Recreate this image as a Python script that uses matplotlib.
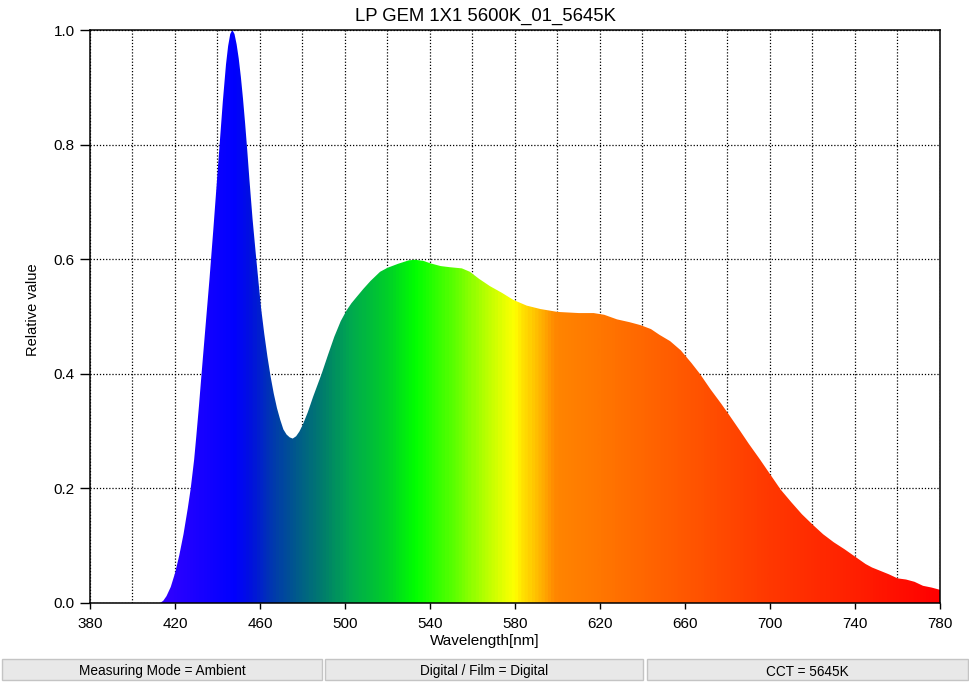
import numpy as np
import matplotlib.pyplot as plt
from matplotlib.colors import LinearSegmentedColormap
from matplotlib.patches import Rectangle

plt.rcParams['font.family'] = ['Liberation Sans', 'DejaVu Sans']

# spectrum (nm, relative value)
wavelength = [413, 414.5, 416, 418, 420, 422, 424, 426, 427.4, 429, 430, 431.3, 432.5, 434.3,
              436.2, 438, 439.5, 441, 442.5, 444, 445, 446, 447, 448, 449, 450, 451, 452, 453,
              454, 455, 456.5, 458, 459.2, 460.5, 462, 463.5, 465, 466.5, 468, 469.5, 471,
              472.5, 474, 475.4, 477, 478.5, 480, 482.5, 485, 487, 489, 492, 495, 498, 500.8,
              503, 505, 508.6, 512, 516.5, 520, 525, 530, 533, 537, 540, 545, 549.4, 555,
              558.8, 563, 568.2, 574, 579.2, 585.5, 592, 600, 610, 617, 622, 628, 634, 639,
              644, 648, 653, 658, 663, 667, 672, 677, 681, 686, 690, 695, 700, 705, 710, 715,
              720, 725, 730, 735, 740, 745, 748, 752, 756, 760, 764, 768, 772, 776, 780]
relative = [0.0, 0.004, 0.012, 0.028, 0.052, 0.083, 0.12, 0.165, 0.2, 0.25, 0.29, 0.345, 0.40, 0.48,
            0.564, 0.65, 0.725, 0.80, 0.875, 0.94, 0.972, 0.993, 1.0, 0.993, 0.975, 0.95, 0.918, 0.88, 0.837,
            0.79, 0.74, 0.67, 0.61, 0.564, 0.515, 0.47, 0.43, 0.395, 0.365, 0.34, 0.32, 0.303,
            0.294, 0.289, 0.287, 0.291, 0.299, 0.31, 0.333, 0.36, 0.38, 0.40, 0.433, 0.465, 0.492, 0.511,
            0.523, 0.532, 0.548, 0.562, 0.578, 0.585, 0.592, 0.598, 0.599, 0.597, 0.593, 0.588, 0.586, 0.584,
            0.578, 0.566, 0.553, 0.541, 0.529, 0.519, 0.513, 0.508, 0.506, 0.506, 0.503, 0.495, 0.49, 0.485,
            0.478, 0.468, 0.457, 0.441, 0.419, 0.40, 0.373, 0.348, 0.327, 0.30, 0.278, 0.252, 0.225, 0.198,
            0.176, 0.155, 0.137, 0.12, 0.106, 0.094, 0.081, 0.068, 0.062, 0.056, 0.05, 0.043, 0.041, 0.037,
            0.030, 0.027, 0.023]

title = 'LP GEM 1X1 5600K_01_5645K'
status = ['Measuring Mode = Ambient', 'Digital / Film = Digital', 'CCT = 5645K']

# wavelength -> colour stops for the fill
stops = [(380, '#4000FF'), (413, '#3300FF'), (447, '#0000FF'), (455, '#0010E0'),
         (465, '#0038B0'), (475, '#005590'), (490, '#00806A'), (502, '#00A850'),
         (520, '#00D028'), (533, '#00FF00'), (550, '#55FF00'), (565, '#B0FF00'),
         (576, '#EEFF00'), (580, '#FFFF00'), (584, '#FFE000'), (590, '#FFC000'),
         (597, '#FF9400'), (600, '#FF8400'), (620, '#FF7700'), (660, '#FF5800'),
         (700, '#FF3800'), (740, '#FF2000'), (780, '#FF0000')]
cmap = LinearSegmentedColormap.from_list('spec', [((w - 380) / 400, c) for w, c in stops])

fig = plt.figure(figsize=(9.7, 6.83), dpi=100)
ax = fig.add_axes([90 / 970, 80 / 683, 850 / 970, 573 / 683])

ax.set_xlim(380, 780)
ax.set_ylim(0, 1)

poly = ax.fill_between(wavelength, relative, 0, color='none', lw=0)
grad = np.linspace(380, 780, 800).reshape(1, -1)
img = ax.imshow(grad, extent=[380, 780, 0, 1], aspect='auto', cmap=cmap,
                vmin=380, vmax=780, origin='lower', zorder=2)
path = poly.get_paths()[0]
img.set_clip_path(path, transform=ax.transData)

ax.set_xticks(np.arange(380, 781, 40))
ax.set_xticks(np.arange(400, 781, 40), minor=True)
ax.set_yticks(np.arange(0, 1.01, 0.2))
ax.set_yticklabels([f'{v:.1f}' for v in np.arange(0, 1.01, 0.2)])
ax.grid(True, which='both', axis='x', color='black', linestyle=(0, (1, 1.5)), lw=0.9, zorder=1)
ax.grid(True, which='major', axis='y', color='black', linestyle=(0, (1, 1.5)), lw=0.9, zorder=1)
ax.set_axisbelow(True)
ax.tick_params(axis='x', which='major', direction='out', length=4, width=1, labelsize=11, pad=6)
ax.tick_params(axis='x', which='minor', length=0)
ax.tick_params(axis='y', direction='out', length=7, width=1, labelsize=11, pad=4)
for s in ax.spines.values():
    s.set_linewidth(1.1)
    s.set_zorder(5)

fig.text(485 / 970, 1 - 16 / 683, title, ha='center', va='center', fontsize=13.3)
fig.text(485 / 970, 1 - 641 / 683, 'Wavelength[nm]', ha='center', va='center', fontsize=11)
fig.text(33 / 970, 1 - 310 / 683, 'Relative value', ha='center', va='center',
         rotation=90, fontsize=10.5)

boxes = [(2, 322), (325, 643), (647, 968)]
for (x0, x1), label in zip(boxes, status):
    fig.patches.append(Rectangle((x0 / 970, 3 / 683), (x1 - x0) / 970, 21 / 683,
                                 transform=fig.transFigure, facecolor='#E8E8E8',
                                 edgecolor='#C4C4C4', lw=1))
    fig.text((x0 + x1) / 2 / 970, 11.5 / 683, label, ha='center', va='center', fontsize=9.8)

fig.savefig('out.png', dpi=100)
